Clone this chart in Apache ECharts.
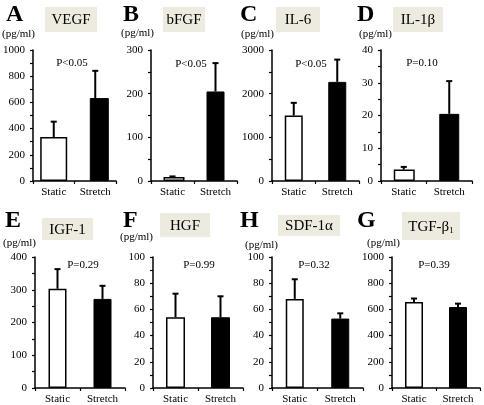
<!DOCTYPE html>
<html>
<head>
<meta charset="utf-8">
<script src="https://cdn.jsdelivr.net/npm/echarts@6/dist/echarts.min.js"></script>
<style>html,body{margin:0;padding:0;background:#fff}#c{width:484px;height:405px}</style>
</head>
<body>
<div id="c"></div>
<script>
// ---- data ----
const panelLetters = ['A','B','C','D','E','F','H','G'];
const titles = ['VEGF','bFGF','IL-6','IL-1β','IGF-1','HGF','SDF-1α','TGF-β{s|1}'];
const pLabels = ['P<0.05','P<0.05','P<0.05','P=0.10','P=0.29','P=0.99','P=0.32','P=0.39'];
const categories = ['Static','Stretch'];
const staticMean = [335, 9, 1500, 3.5, 303, 54, 68, 657];
const staticErr = [118, 1.5, 290, 0.8, 60, 18, 15, 26];
const stretchMean = [633, 205, 2270, 20.5, 272, 54, 53, 618];
const stretchErr = [208, 65, 510, 10, 40, 16, 4, 26];
const yMax = [1000, 300, 3000, 40, 400, 100, 100, 1000];
const yStep = [200, 100, 1000, 10, 100, 20, 20, 200];
const unitLabel = '(pg/ml)';

// ---- layout ----
const FONT = "'Liberation Serif','Times New Roman',serif";
const grids = [[33,50,83],[151,50,86],[272,50,87],[381,50,91],[35,257,90],[153,257,90],[272,257,91],[392,257,88]];
const gridH = 131;
const barW = [[27,19],[21,18],[18,18],[21,20],[18,18],[19,19],[18,18],[18,18]];
const barGaps = ['-70%','-100%','-100%','-100%','-100%','-100%','-100%','-100%'];
const letterPos = [[6,15],[123,15],[240,15],[357,15],[5,221],[123,221],[240,221],[357,221]];
const boxes = [[45,7,52,25],[163,7,42,25],[276,7,44,25],[393,7,50,25],[42,218,51,22],[160,213,50,24],[278,215,62,21],[402,212,58,28]];
const unitPos = [[2,34],[121,33],[241,34],[359,34],[3,243],[120,237],[245,245],[367,243]];
const pPos = [[72,63],[191,64],[311,64],[422,63],[83,265],[199,265],[314,265],[434,265]];

const chart = echarts.init(document.getElementById('c'), null, {renderer:'canvas'});
const grid = [], xAxis = [], yAxis = [], series = [], graphic = [];

for (let i = 0; i < 8; i++) {
  grid.push({left: grids[i][0], top: grids[i][1], width: grids[i][2], height: gridH, containLabel: false});
  xAxis.push({
    type: 'category', gridIndex: i, data: categories,
    axisLine: {lineStyle: {color: '#000', width: 1.5}},
    axisTick: {show: true, length: 3, lineStyle: {color: '#000', width: 1.2}},
    axisLabel: {color: '#000', fontFamily: FONT, fontSize: 11, margin: 6, interval: 0, hideOverlap: false},
    splitLine: {show: false}
  });
  yAxis.push({
    type: 'value', gridIndex: i, min: 0, max: yMax[i], interval: yStep[i],
    axisLine: {show: true, lineStyle: {color: '#000', width: 1.5}},
    axisTick: {show: true, length: 3, lineStyle: {color: '#000', width: 1.2}},
    minorTick: {show: true, splitNumber: 2, length: 3, lineStyle: {color: '#000', width: 1.2}},
    axisLabel: {color: '#000', fontFamily: FONT, fontSize: 11, margin: 8, formatter: v => String(v)},
    splitLine: {show: false}
  });
  series.push({
    type: 'bar', xAxisIndex: i, yAxisIndex: i, barWidth: barW[i][0], barGap: barGaps[i],
    data: [staticMean[i], '-'],
    itemStyle: {color: '#fff', borderColor: '#000', borderWidth: 1.5},
    silent: true, animation: false
  });
  series.push({
    type: 'bar', xAxisIndex: i, yAxisIndex: i, barWidth: barW[i][1], barGap: barGaps[i],
    data: ['-', stretchMean[i]],
    itemStyle: {color: '#000', borderColor: '#000', borderWidth: 1},
    silent: true, animation: false
  });
  series.push({
    type: 'custom', xAxisIndex: i, yAxisIndex: i, z: 5, silent: true, animation: false,
    data: [[0, staticMean[i], staticErr[i]], [1, stretchMean[i], stretchErr[i]]],
    renderItem: function (params, api) {
      const p0 = api.coord([api.value(0), api.value(1)]);
      const p1 = api.coord([api.value(0), api.value(1) + api.value(2)]);
      const st = {stroke: '#000', lineWidth: 2};
      return {type: 'group', children: [
        {type: 'line', shape: {x1: p0[0], y1: p0[1], x2: p1[0], y2: p1[1]}, style: st},
        {type: 'line', shape: {x1: p1[0] - 3, y1: p1[1], x2: p1[0] + 3, y2: p1[1]}, style: st}
      ]};
    }
  });
  // panel letter
  graphic.push({type: 'text', left: letterPos[i][0], top: letterPos[i][1] - 12,
    style: {text: panelLetters[i], font: 'bold 24px ' + FONT, fill: '#000'}});
  // title box
  const b = boxes[i];
  graphic.push({type: 'rect', shape: {x: b[0], y: b[1], width: b[2], height: b[3]}, style: {fill: '#edeae0'}});
  graphic.push({type: 'text', x: b[0] + b[2] / 2, y: b[1] + b[3] / 2 + 1,
    style: {text: titles[i], fill: '#000', font: '15px ' + FONT, align: 'center', verticalAlign: 'middle',
      rich: {s: {fontSize: 9, fontFamily: FONT, verticalAlign: 'bottom', padding: [7, 0, 0, 0]}}}});
  // unit label
  graphic.push({type: 'text', x: unitPos[i][0], y: unitPos[i][1],
    style: {text: unitLabel, fill: '#000', font: '11px ' + FONT, align: 'left', verticalAlign: 'middle'}});
  // p value
  graphic.push({type: 'text', x: pPos[i][0], y: pPos[i][1],
    style: {text: pLabels[i], fill: '#000', font: '11px ' + FONT, align: 'center', verticalAlign: 'middle'}});
}

chart.setOption({animation: false, backgroundColor: '#fff', grid, xAxis, yAxis, series, graphic});
</script>
</body>
</html>
